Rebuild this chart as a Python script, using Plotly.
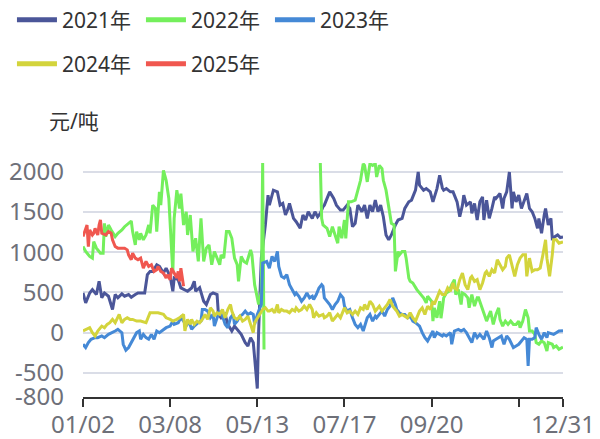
import plotly.graph_objects as go

# ---- data (x = day index on the category axis, 0 = 01/02, 358 = 12/31) ----
tick_days = [0, 65, 130, 195, 260, 325, 358]
tick_labels = ["01/02", "03/08", "05/13", "07/17", "09/20", "", "12/31"]

x_2021 = [0,2,5,7,10,12,14,16,19,21,22,24,26,29,31,34,36,39,41,46,48,50,52,55,57,60,62,65,67,68,71,73,76,78,81,83,84,87,90,92,95,97,100,101,103,106,108,111,113,116,118,121,123,125,127,128,130,131,133,136,138,139,142,145,147,149,151,153,154,157,159,162,164,166,168,171,173,175,177,179,180,184,187,189,192,194,197,199,201,203,205,208,210,212,214,216,218,220,222,224,226,228,230,233,235,238,240,243,245,248,250,251,254,256,259,261,264,266,268,269,271,274,276,279,281,283,284,286,289,290,292,294,296,298,299,301,303,305,307,308,311,313,314,316,318,320,321,323,325,327,329,331,333,335,337,339,340,342,344,345,347,349,350,352,354,356,358]
y_2021 = [494,371,494,535,474,639,433,494,453,350,288,474,433,482,453,474,441,474,494,494,721,762,762,845,824,742,803,700,515,680,659,556,536,515,556,639,515,560,391,350,474,494,474,227,185,227,103,21,82,21,-21,-124,-165,-62,-124,-309,-695,21,927,1339,1710,1586,1772,1751,1586,1607,1463,1545,1607,1421,1380,1298,1463,1401,1504,1421,1504,1442,1483,1566,1586,1751,1669,1586,1524,1524,1586,1545,1318,1360,1586,1504,1586,1421,1586,1504,1648,1504,1586,1442,1215,1154,1215,1339,1401,1421,1545,1627,1648,1772,1998,1833,1772,1792,1751,1627,1792,1957,1800,1772,1792,1751,1751,1627,1442,1586,1710,1586,1627,1483,1607,1401,1627,1689,1401,1648,1421,1545,1689,1669,1730,1545,1669,1751,1998,1545,1751,1627,1710,1545,1627,1730,1545,1504,1421,1298,1421,1236,1463,1545,1339,1421,1174,1195,1215,1183,1190]

x_2022 = [0,2,5,7,8,10,12,13,15,16,17,19,21,24,26,29,31,34,36,37,39,40,42,43,45,47,49,50,52,54,55,57,58,60,62,64,65,67,68,70,72,73,75,77,78,80,82,84,86,88,90,92,94,96,98,100,102,103,105,107,109,111,113,115,116,118,120,122,125,126,128,131,133,134,135,136,177,178,179,182,184,186,188,190,191,193,195,196,198,200,203,205,207,209,210,212,214,216,218,219,221,223,224,226,228,230,232,233,235,236,238,240,241,243,244,246,249,251,254,256,257,260,261,262,264,266,267,268,269,271,273,275,277,278,280,282,283,285,287,288,290,292,294,295,297,299,301,303,304,306,308,310,311,313,315,317,319,321,323,325,326,328,330,332,333,335,337,338,340,342,344,346,347,350,351,353,355,358]
y_2022 = [1071,1010,948,927,1133,1051,1010,989,989,1360,1195,1339,1277,1195,1236,1277,1318,1360,1388,1257,1092,1257,1154,1236,1154,1215,1339,1236,1586,1545,1257,1751,1586,2019,1895,1669,1380,740,1421,1772,1545,1730,1339,1504,1215,1463,1010,1174,886,1421,886,1051,1092,845,1010,927,845,968,927,1257,1257,1174,927,845,639,948,886,865,1030,968,597,350,515,2110,-210,None,2110,1421,1339,1298,1195,1318,1215,1112,1318,1174,1401,1174,1627,1627,1648,1792,1895,2100,2080,1875,2100,2080,2100,1936,2080,2040,1895,1772,1586,1360,1339,762,1010,968,1010,1010,927,680,639,618,536,494,433,371,453,391,144,309,185,391,180,300,433,494,515,597,659,474,536,350,494,474,433,309,474,330,433,433,330,227,144,227,268,103,227,309,165,82,144,103,144,103,103,144,62,144,288,185,21,21,-21,-124,-144,-103,-124,-227,-124,-144,-185,-165,-206,-180]

x_2023 = [0,2,4,6,9,11,14,16,19,21,24,26,29,30,32,34,36,38,40,42,43,45,47,49,51,53,55,57,60,62,65,67,68,71,73,75,77,79,81,83,86,88,89,91,93,95,97,98,100,102,104,106,108,110,112,113,115,117,119,121,123,125,127,128,130,132,133,134,137,139,141,143,145,146,148,150,152,154,156,158,159,161,163,165,167,169,171,172,174,176,178,179,180,182,184,186,188,190,192,194,195,197,199,201,203,205,207,209,210,212,214,216,218,219,221,223,225,227,229,231,233,234,236,238,240,242,244,246,248,250,251,253,255,257,259,261,262,264,266,268,269,271,274,275,277,280,282,284,286,288,290,292,294,296,297,299,301,303,305,306,308,310,312,314,316,318,320,321,323,325,327,329,331,332,333,335,337,338,340,342,344,346,347,350,351,353,355,358]
y_2023 = [-144,-185,-124,-82,-62,-62,-41,-62,-21,0,21,41,0,-144,-218,-185,-124,-62,0,21,-82,-21,-62,-82,-21,-82,21,0,41,62,82,144,103,124,185,144,82,144,41,82,124,144,288,288,268,185,227,82,185,268,206,103,62,185,227,103,144,206,227,268,227,247,227,103,227,309,350,865,886,803,948,886,1010,824,700,680,721,597,536,474,494,453,391,433,494,433,453,412,474,556,597,577,433,391,350,288,350,391,474,433,330,268,288,185,103,62,103,21,82,185,227,144,206,185,227,268,206,288,330,433,350,288,247,227,227,185,206,144,124,103,82,0,-62,-103,-41,21,-62,0,-21,-41,-21,-41,0,-144,21,41,21,41,0,-62,-124,0,-62,-21,-41,-82,21,-62,-185,-103,-82,-62,-41,-144,-41,-82,-144,-185,-165,-144,-103,-62,-82,-412,-82,-82,-62,62,-21,-82,0,-62,0,-21,-21,0,21,25]

x_2024 = [0,2,5,7,9,11,12,14,16,18,20,22,24,26,27,29,31,33,35,37,40,43,47,50,52,56,60,62,65,67,70,72,75,76,78,80,81,83,85,87,89,91,93,95,97,98,100,102,104,106,108,110,111,113,115,117,119,121,123,125,127,128,130,132,134,136,138,139,141,143,145,146,148,150,152,154,156,158,159,161,163,165,167,169,171,172,174,176,178,179,180,182,184,186,188,190,192,194,195,197,199,201,203,205,207,209,210,212,214,216,218,219,221,223,225,227,229,231,233,234,236,238,240,242,244,246,248,250,251,253,255,257,259,261,262,264,266,268,270,272,274,276,277,279,281,283,285,287,289,290,292,294,296,298,300,301,303,305,307,309,311,313,315,316,318,320,322,324,326,328,330,331,333,335,337,339,341,343,345,346,348,350,351,353,355,358]
y_2024 = [21,41,62,0,-41,21,41,82,62,103,124,165,124,185,227,124,165,185,165,165,144,144,124,247,247,247,227,185,165,144,165,185,227,21,165,103,165,103,144,124,165,227,165,309,268,206,247,227,288,185,288,350,268,185,165,206,144,165,206,103,0,124,185,227,288,309,268,268,288,247,350,247,288,268,268,247,288,268,309,268,288,330,288,350,288,185,247,206,227,227,185,206,247,144,185,227,185,268,309,247,268,227,268,227,309,288,350,288,391,350,268,288,330,268,309,350,412,330,288,268,206,227,206,185,247,185,144,227,268,309,227,330,288,391,350,433,515,474,474,556,515,618,556,536,659,742,597,536,680,700,639,659,536,618,742,762,700,783,742,906,845,783,824,927,968,845,700,845,927,968,968,700,927,762,783,783,803,968,1154,927,700,968,1154,1154,1112,1130]

x_2025 = [0,1,2,3,4,5,7,8,9,11,12,13,14,16,17,19,21,22,24,26,29,31,33,34,36,37,39,41,43,44,45,47,49,51,53,55,56,58,60,62,63,65,66,68,70,71,72,73,75]
y_2025 = [1195,1236,1277,1339,1071,1277,1215,1236,1298,1215,1339,1401,1236,1215,1215,1257,1236,1154,1071,1051,1051,1051,1030,968,906,989,927,906,927,865,803,886,824,845,762,783,824,762,742,680,721,659,803,742,680,762,639,803,577]

series = [
    ("2021年", x_2021, y_2021, "#4B5699"),
    ("2022年", x_2022, y_2022, "#74EF5C"),
    ("2023年", x_2023, y_2023, "#4589D6"),
    ("2024年", x_2024, y_2024, "#D3D43C"),
    ("2025年", x_2025, y_2025, "#F0574F"),
]

y_ticks = [-800, -500, 0, 500, 1000, 1500, 2000, 2110]
y_ticktext = ["-800", "-500", "0", "500", "1000", "1500", "2000", ""]

FONT = "Noto Sans, Noto Sans CJK SC, sans-serif"

fig = go.Figure()
for i, (name, xs, ys, col) in enumerate(series):
    lg = "legend" if i < 3 else "legend2"
    fig.add_trace(go.Scatter(
        x=xs, y=ys, name=name, mode="lines",
        line=dict(color=col, width=3),
        connectgaps=False, showlegend=False, legendgroup=name,
    ))
    # legend-only entry with a thicker swatch, like the reference
    fig.add_trace(go.Scatter(
        x=[None], y=[None], name=name, mode="lines",
        line=dict(color=col, width=5),
        showlegend=True, legendgroup=name, legend=lg, hoverinfo="skip",
    ))

legend_common = dict(
    orientation="h", xanchor="left", yanchor="middle",
    font=dict(family=FONT, size=21, color="#333333"),
    bgcolor="rgba(0,0,0,0)", entrywidth=74, itemwidth=40,
)

fig.update_layout(
    width=600, height=439,
    margin=dict(l=83, r=37, t=163, b=42, autoexpand=False),
    paper_bgcolor="white", plot_bgcolor="white",
    font=dict(family=FONT, size=22, color="#6E7079"),
    showlegend=True,
    legend=dict(x=-0.148, y=1.611, **legend_common),
    legend2=dict(x=-0.148, y=1.423, **legend_common),
    xaxis=dict(
        range=[0, 358], tickmode="array", tickvals=tick_days, ticktext=tick_labels,
        showgrid=False, zeroline=False,
        showline=True, linecolor="#333333", linewidth=1.5,
        ticks="outside", ticklen=8, tickwidth=1.5, tickcolor="#333333",
        tickfont=dict(family=FONT, size=24, color="#6E7079"),
        ticklabelstandoff=-3, automargin=False,
    ),
    yaxis=dict(
        range=[-800, 2110], tickmode="array", tickvals=y_ticks, ticktext=y_ticktext,
        showgrid=True, gridcolor="#DADDE7", gridwidth=1.5,
        zeroline=False, showline=False, ticks="",
        tickfont=dict(family=FONT, size=24, color="#6E7079"),
        ticklabelstandoff=18, automargin=False,
    ),
    annotations=[dict(
        text="元/吨", xref="paper", yref="paper", x=-0.075, y=1.179,
        xanchor="left", yanchor="middle", showarrow=False,
        font=dict(family=FONT, size=21, color="#333333"),
    )],
)

fig.write_html("out.html", config={"displayModeBar": False},
               post_script="document.body.style.margin='0px';")
